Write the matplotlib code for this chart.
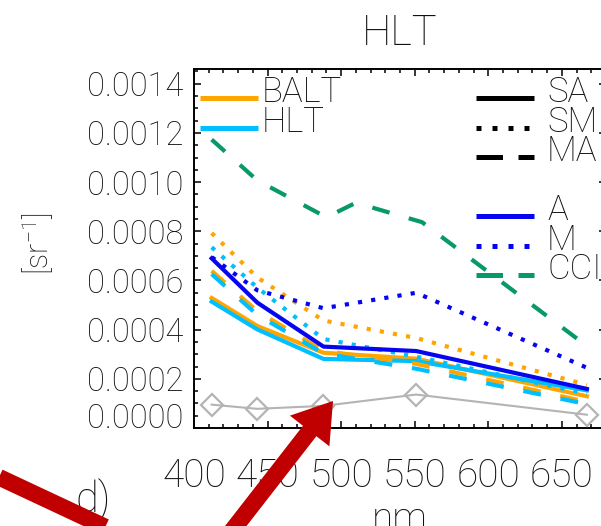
import matplotlib
matplotlib.use("Agg")
import matplotlib.pyplot as plt
from matplotlib.ticker import MultipleLocator, FormatStrFormatter
from matplotlib.transforms import ScaledTranslation, IdentityTransform
from matplotlib.patches import FancyArrow
from matplotlib.lines import Line2D

plt.rcParams["font.family"] = ["Roboto", "DejaVu Sans"]
plt.rcParams["font.weight"] = "light"
plt.rcParams["axes.labelweight"] = "light"
plt.rcParams["mathtext.fontset"] = "custom"
plt.rcParams["mathtext.rm"] = "Roboto:light"
plt.rcParams["mathtext.default"] = "regular"

# ---- data -------------------------------------------------------------
wavelengths = [412, 443, 488, 551, 667]
wavelengths_cci = [412, 443, 490, 510, 555, 670]

balt_sa = [0.000529, 0.000415, 0.000306, 0.000282, 0.000129]
hlt_sa = [0.000514, 0.000401, 0.000281, 0.000272, 0.000153]
balt_sm = [0.000793, 0.000612, 0.000437, 0.000366, 0.000175]
hlt_sm = [0.000735, 0.000571, 0.000362, 0.000290, 0.000139]
balt_ma = [0.000639, 0.000475, 0.000314, 0.000261, 0.000106]
hlt_ma = [0.000626, 0.000460, 0.000303, 0.000241, 0.000097]
algo_a = [0.000690, 0.000510, 0.000331, 0.000313, 0.000159]
algo_m = [0.000695, 0.000560, 0.000487, 0.000550, 0.000245]
cci = [0.001173, 0.001007, 0.000857, 0.000916, 0.000837, 0.000320]
insitu = [0.000095, 0.000078, 0.000090, 0.000136, 0.000054]

y_ticks = [0.0, 0.0002, 0.0004, 0.0006, 0.0008, 0.0010, 0.0012, 0.0014]
x_ticks = [400, 450, 500, 550, 600, 650]

# ---- styles -----------------------------------------------------------
ORANGE = "#FFA500"
CYAN = "#00BFFF"
BLUE = "#0505F0"
GREEN = "#08996A"
GREY = "#B4B4B4"
RED = "#C00000"
TXT = "#111111"
DOT = (0, (1, 2.2))
DASH = (0, (4.3, 4.8))
LW = 3.0

W, H = 601, 526
fig = plt.figure(figsize=(W / 100, H / 100), dpi=100)
ax = fig.add_axes([194 / W, 1 - 428 / H, 412 / W, 359 / H])

series = [
    (balt_sa, ORANGE, "-"), (hlt_sa, CYAN, "-"),
    (balt_sm, ORANGE, DOT), (hlt_sm, CYAN, DOT),
    (balt_ma, ORANGE, DASH), (hlt_ma, CYAN, DASH),
    (algo_a, BLUE, "-"), (algo_m, BLUE, DOT),
]
for vals, col, ls in series:
    ax.plot(wavelengths, vals, color=col, ls=ls, lw=LW, clip_on=False)
ax.plot(wavelengths_cci, cci, color=GREEN, ls=DASH, lw=LW, clip_on=False)
ax.plot(wavelengths, insitu, color=GREY, lw=1.5, marker="D", ms=11.5,
        mfc="none", mec=GREY, mew=1.6, clip_on=False, zorder=4)

ax.set_xlim(400, 680)
ax.set_ylim(0, 0.00146)
ax.set_xticks(x_ticks)
ax.set_yticks(y_ticks)
ax.xaxis.set_minor_locator(MultipleLocator(10))
ax.yaxis.set_minor_locator(MultipleLocator(0.00005))
ax.yaxis.set_major_formatter(FormatStrFormatter("%.4f"))
ax.tick_params(which="both", direction="in", top=True, right=True,
               color="black", width=1.1, labelcolor=TXT)
ax.tick_params(which="major", length=5.3)
ax.tick_params(which="minor", length=3.0)
ax.tick_params(axis="x", labelsize=28, pad=21)
ax.tick_params(axis="y", labelsize=23.5, pad=7.5)
for sp in ax.spines.values():
    sp.set_linewidth(1.4)

fig.canvas.draw()
zero_lbl = ax.yaxis.get_major_ticks()[0].label1
zero_lbl.set_transform(zero_lbl.get_transform()
                       + ScaledTranslation(0, 12 / 100, fig.dpi_scale_trans))

# axis labels and title
ax.set_xlabel("nm", fontsize=28, color=TXT, fontweight="light")
ax.xaxis.set_label_coords(0.5, (428 - 500) / 359)
ax.set_ylabel("[sr$^{-1}$]", fontsize=22, color=TXT, va="center",
              fontweight="light")
ax.yaxis.set_label_coords((38 - 194) / 412, (428 - 244) / 359)
fig.text(400 / W, 1 - 45 / H, "HLT", ha="center", va="baseline",
         fontsize=30, color=TXT)
fig.text(75 / W, 1 - 512 / H, "d)", ha="left", va="baseline",
         fontsize=30, color=TXT)

# legends (positions in axes fraction)
def ax_x(px):
    return (px - 194) / 412

def ax_y(py):
    return (428 - py) / 359

left_entries = [("BALT", ORANGE, 98), ("HLT", CYAN, 128)]
for name, col, yy in left_entries:
    ax.plot([ax_x(200), ax_x(258)], [ax_y(yy)] * 2, color=col, lw=3.6,
            transform=ax.transAxes, clip_on=False, solid_capstyle="butt")
    ax.text(ax_x(262), ax_y(yy + 4), name, transform=ax.transAxes,
            fontsize=25, color=TXT, va="baseline", ha="left")

right_entries = [
    ("SA", "black", "-", 98), ("SM", "black", DOT, 127.5),
    ("MA", "black", (0, (5.3, 3.1)), 157),
    ("A", BLUE, "-", 216), ("M", BLUE, DOT, 245.5),
    ("CCI", GREEN, (0, (5.3, 3.1)), 275),
]
for name, col, ls, yy in right_entries:
    ax.plot([ax_x(476), ax_x(534)], [ax_y(yy)] * 2, color=col, ls=ls,
            lw=3.6, transform=ax.transAxes, clip_on=False,
            solid_capstyle="butt")
    ax.text(ax_x(547), ax_y(yy + 4), name, transform=ax.transAxes,
            fontsize=25, color=TXT, va="baseline", ha="left")

# red pointer marks drawn over the figure (display pixels)
ident = IdentityTransform()
fig.add_artist(Line2D([-10, 180], [H - 473, H - 562], transform=ident,
                      lw=12, color=RED, solid_capstyle="butt", zorder=6))
fig.add_artist(FancyArrow(228, H - 536, 105, 135, width=17, head_width=50,
                          head_length=38, length_includes_head=True,
                          color=RED, lw=0, transform=ident, zorder=6))

fig.savefig("out.png", dpi=100)
